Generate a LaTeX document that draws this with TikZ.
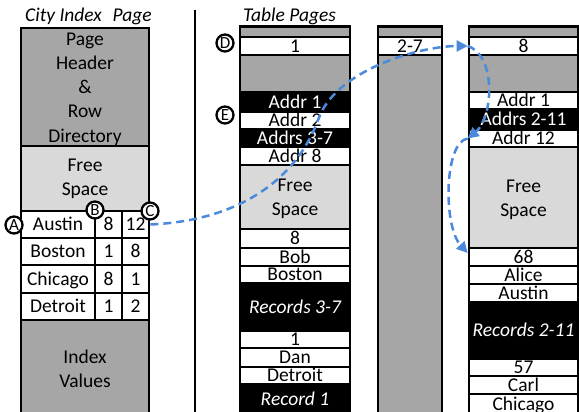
\documentclass[tikz,border=0pt]{standalone}
\usepackage{fontspec}
\setmainfont{Carlito}
\usetikzlibrary{arrows.meta,calc}
\definecolor{dgray}{RGB}{166,166,166}
\definecolor{lgray}{RGB}{217,217,217}
\definecolor{arrowblue}{RGB}{74,137,220}
\newcommand\cellnode[7]{\node[cell,#6,minimum width={(#3-#2)*1pt},minimum height={(#5-#4)*1pt}] (#1) at ({(#2+#3)/2},{(#4+#5)/2}) {#7};}
\begin{document}
\begin{tikzpicture}[x=1pt,y=-1pt,
  cell/.style={draw=black,line width=2.7pt,inner sep=0pt,text height=12.3pt,text depth=0pt,font=\fontsize{19.5}{24}\selectfont,anchor=center},
  dk/.style={fill=dgray},
  lt/.style={fill=lgray},
  wh/.style={fill=white,text=black},
  bk/.style={fill=black,text=white},
  multi/.style={align=center,font=\fontsize{19.5}{24.3}\selectfont,inner sep=0pt},
  title/.style={font=\fontsize{19.5}{24}\selectfont\itshape,inner sep=0pt},
  letter/.style={circle,draw=black,fill=white,line width=2.3pt,minimum size=17pt,inner sep=0pt,font=\fontsize{17}{17}\selectfont},
  link/.style={draw=arrowblue,line width=2.5pt,dash pattern=on 8pt off 5pt,-{Triangle[length=11pt,width=11pt]}}
]
\useasboundingbox (0,0) rectangle (579,412);
\clip (0,0) rectangle (579,412);
% titles
\node[title,anchor=base west] (t1) at (25,21.5) {City Index\hspace{0.55em}Page};
\node[title,anchor=base west] (t2) at (243,21.5) {Table Pages};
% divider
\coordinate (divtop) at (195,10);
\coordinate (divbot) at (195,414);
\draw[line width=2pt] (divtop) -- (divbot);
% city index page
\cellnode{hdr}{21}{149}{28}{146}{dk}{}
\cellnode{lfree}{21}{149}{146}{211}{lt}{}
\cellnode{nAustin}{21}{95}{211}{238}{wh}{Austin}
\cellnode{bAustin}{95}{122}{211}{238}{wh}{8}
\cellnode{cAustin}{122}{149}{211}{238}{wh}{12}
\cellnode{nBoston}{21}{95}{238}{265}{wh}{Boston}
\cellnode{bBoston}{95}{122}{238}{265}{wh}{1}
\cellnode{cBoston}{122}{149}{238}{265}{wh}{8}
\cellnode{nChicago}{21}{95}{265}{293}{wh}{Chicago}
\cellnode{bChicago}{95}{122}{265}{293}{wh}{8}
\cellnode{cChicago}{122}{149}{265}{293}{wh}{1}
\cellnode{nDetroit}{21}{95}{293}{320}{wh}{Detroit}
\cellnode{bDetroit}{95}{122}{293}{320}{wh}{1}
\cellnode{cDetroit}{122}{149}{293}{320}{wh}{2}
\cellnode{idx}{21}{149}{320}{417}{dk}{}
\node[multi] (hdrtxt) at ([yshift=-2pt]hdr.center) {Page\\Header\\\&\\Row\\Directory};
\node[multi] (lfreetxt) at (lfree.center) {Free\\Space};
\node[multi] (idxtxt) at (idx.center) {Index\\Values};
% table page 1
\cellnode{pa0}{240}{350}{28}{37}{dk}{}
\cellnode{pa1}{240}{350}{37}{55}{wh}{1}
\cellnode{pa2}{240}{350}{55}{92}{dk}{}
\cellnode{paA1}{240}{350}{92}{112}{bk}{Addr 1}
\cellnode{paA2}{240}{350}{112}{129}{wh}{Addr 2}
\cellnode{paA3}{240}{350}{129}{147}{bk}{Addrs 3-7}
\cellnode{paA8}{240}{350}{147}{165}{wh}{Addr 8}
\cellnode{pafree}{240}{350}{165}{229}{lt}{}
\cellnode{pa8}{240}{350}{229}{248}{wh}{8}
\cellnode{paBob}{240}{350}{248}{266}{wh}{Bob}
\cellnode{paBoston}{240}{350}{266}{283}{wh}{Boston}
\cellnode{paR37}{240}{350}{283}{331}{bk}{\itshape Records 3-7}
\cellnode{paone}{240}{350}{331}{348}{wh}{1}
\cellnode{paDan}{240}{350}{348}{367}{wh}{Dan}
\cellnode{paDetroit}{240}{350}{367}{384}{wh}{Detroit}
\cellnode{paR1}{240}{350}{384}{414}{bk}{\itshape Record 1}
\node[multi] (pafreetxt) at ([yshift=-2pt]pafree.center) {Free\\Space};
% table page 2
\cellnode{pb0}{378}{442}{28}{37}{dk}{}
\cellnode{pb1}{378}{442}{37}{55}{wh}{2-7}
\cellnode{pb2}{378}{442}{55}{416}{dk}{}
% table page 3
\cellnode{pc0}{469}{578}{28}{37}{dk}{}
\cellnode{pc1}{469}{578}{37}{55}{wh}{8}
\cellnode{pc2}{469}{578}{55}{92}{dk}{}
\cellnode{pcA1}{469}{578}{92}{109}{wh}{Addr 1}
\cellnode{pcA2}{469}{578}{109}{130}{bk}{Addrs 2-11}
\cellnode{pcA12}{469}{578}{130}{147}{wh}{Addr 12}
\cellnode{pcfree}{469}{578}{147}{248}{lt}{}
\cellnode{pc68}{469}{578}{248}{266}{wh}{68}
\cellnode{pcAlice}{469}{578}{266}{284}{wh}{Alice}
\cellnode{pcAustin}{469}{578}{284}{302}{wh}{Austin}
\cellnode{pcR}{469}{578}{302}{359}{bk}{\itshape Records 2-11}
\cellnode{pc57}{469}{578}{359}{376}{wh}{57}
\cellnode{pcCarl}{469}{578}{376}{394}{wh}{Carl}
\cellnode{pcChicago}{469}{578}{394}{414}{wh}{Chicago}
\node[multi] (pcfreetxt) at ([yshift=-2pt]pcfree.center) {Free\\Space};
% letters
\node[letter] (lA) at (14,225) {A};
\node[letter] (lB) at (95,210) {B};
\node[letter] (lC) at (150,211) {C};
\node[letter] (lD) at (225,43) {D};
\node[letter] (lE) at (225,115) {E};
% links
\draw[link] (cAustin.east) .. controls (250,220) and (300,170) .. (318,120) .. controls (335,70) and (420,46) .. (pc1.west);
\draw[link] (pc1.west) .. controls (497,56) and (493,118) .. (pcA12.west);
\draw[link] (pcA12.west) .. controls (444,142) and (443,226) .. ([yshift=4pt]pc68.west);
\end{tikzpicture}
\end{document}
